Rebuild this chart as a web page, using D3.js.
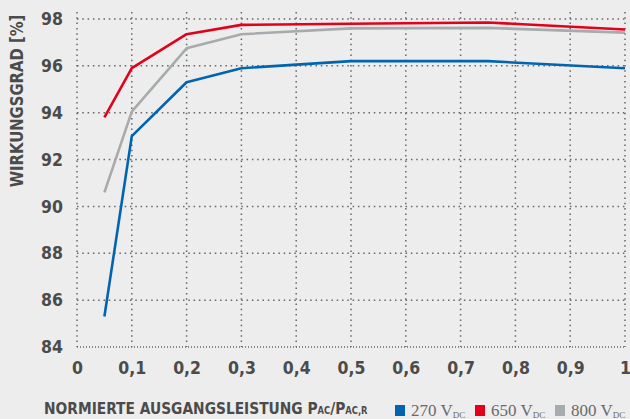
<!DOCTYPE html>
<html>
<head>
<meta charset="utf-8">
<script src="https://cdn.jsdelivr.net/npm/d3@7"></script>
<style>
  body { margin: 0; background: #ededed; }
  svg { display: block; }
</style>
</head>
<body>
<div id="chart"></div>
<script>
// Wirkungsgrad ueber normierte Ausgangsleistung
let load = [0.05, 0.1, 0.2, 0.3, 0.5, 0.75, 1];
let eff270 = [85.3, 93.0, 95.3, 95.9, 96.2, 96.2, 95.9];
let eff650 = [93.8, 95.9, 97.35, 97.75, 97.8, 97.85, 97.55];
let eff800 = [90.6, 94.05, 96.75, 97.35, 97.6, 97.62, 97.42];
let seriesNames = ["270", "650", "800"];
let xTicks = [0, 0.1, 0.2, 0.3, 0.4, 0.5, 0.6, 0.7, 0.8, 0.9, 1];
let yTicks = [84, 86, 88, 90, 92, 94, 96, 98];

let svgWidth = 630;
let svgHeight = 419;
let margin = { top: 19, right: 5, bottom: 72, left: 77 };
let width = 625 - margin.left;
let height = 347 - margin.top;

let colors = ["#0064b1", "#e3001b", "#a7abae"];
let textColor = "#4b4b4b";
let condFont = "'DejaVu Sans Condensed', 'Liberation Sans Narrow', sans-serif";

let svg = d3.select("#chart").append("svg")
  .attr("width", svgWidth)
  .attr("height", svgHeight);

let chartGroup = svg.append("g")
  .attr("transform", `translate(${margin.left}, ${margin.top})`);

let xScale = d3.scaleLinear().domain([0, 1]).range([0, width]);
let yScale = d3.scaleLinear().domain([84, 98]).range([height, 0]);

// gridlines
chartGroup.selectAll(".hgrid")
  .data(yTicks)
  .enter()
  .append("line")
  .attr("x1", 0)
  .attr("x2", width)
  .attr("y1", d => yScale(d))
  .attr("y2", d => yScale(d))
  .attr("stroke", "#666")
  .attr("stroke-width", 1.5)
  .attr("stroke-dasharray", d => d === 84 ? "1,2" : "1.5,3.8");

chartGroup.selectAll(".vgrid")
  .data(xTicks)
  .enter()
  .append("line")
  .attr("x1", d => xScale(d))
  .attr("x2", d => xScale(d))
  .attr("y1", -7)
  .attr("y2", height)
  .attr("stroke", "#666")
  .attr("stroke-width", 1.5)
  .attr("stroke-dasharray", "1.5,3.8");

// axes (labels only)
let fmt = d => d === 0 ? "0" : d === 1 ? "1" : String(d).replace(".", ",");
let bottomAxis = d3.axisBottom(xScale).tickValues(xTicks).tickFormat(fmt).tickSize(0).tickPadding(15);
let leftAxis = d3.axisLeft(yScale).tickValues(yTicks).tickSize(0).tickPadding(14);

let xAxis = chartGroup.append("g")
  .attr("transform", `translate(0, ${height})`)
  .call(bottomAxis);
let yAxis = chartGroup.append("g").call(leftAxis);

[xAxis, yAxis].forEach(ax => {
  ax.select(".domain").remove();
  ax.selectAll("text")
    .attr("fill", textColor)
    .style("font-family", condFont)
    .style("font-weight", "bold")
    .style("font-size", "17.5px");
});

// lines
let allSeries = [eff270, eff650, eff800];
let line = d3.line()
  .x((d, i) => xScale(load[i]))
  .y(d => yScale(d));

chartGroup.selectAll(".series")
  .data(allSeries)
  .enter()
  .append("path")
  .attr("d", d => line(d))
  .attr("fill", "none")
  .attr("stroke", (d, i) => colors[i])
  .attr("stroke-width", 2.6)
  .attr("stroke-linejoin", "round");

// axis titles
svg.append("text")
  .attr("transform", "translate(23, 101) rotate(-90) scale(0.97, 1)")
  .attr("text-anchor", "middle")
  .attr("fill", textColor)
  .style("font-family", condFont)
  .style("font-weight", "bold")
  .style("font-size", "17px")
  .text("WIRKUNGSGRAD [%]");

let xTitle = svg.append("text")
  .attr("transform", "translate(44, 414) scale(0.93, 1)")
  .attr("fill", textColor)
  .style("font-family", condFont)
  .style("font-weight", "bold")
  .style("font-size", "16.5px");
xTitle.append("tspan").text("NORMIERTE AUSGANGSLEISTUNG P");
xTitle.append("tspan").attr("font-size", "10px").text("AC");
xTitle.append("tspan").text("/P");
xTitle.append("tspan").attr("font-size", "10px").text("AC,R");

// legend
let legendX = [395, 475, 555];
let legend = svg.selectAll(".legend")
  .data(seriesNames)
  .enter()
  .append("g")
  .attr("transform", (d, i) => `translate(${legendX[i]}, 405)`);

legend.append("rect")
  .attr("width", 10)
  .attr("height", 11)
  .attr("fill", (d, i) => colors[i]);

let legText = legend.append("text")
  .attr("x", 16)
  .attr("y", 11)
  .attr("fill", "#6a6a6a")
  .style("font-family", "'Liberation Serif', 'DejaVu Serif', serif")
  .style("font-size", "17px");
legText.append("tspan").text(d => d + " V");
legText.append("tspan").attr("font-size", "9px").attr("dy", 2).text("DC");
</script>
</body>
</html>
